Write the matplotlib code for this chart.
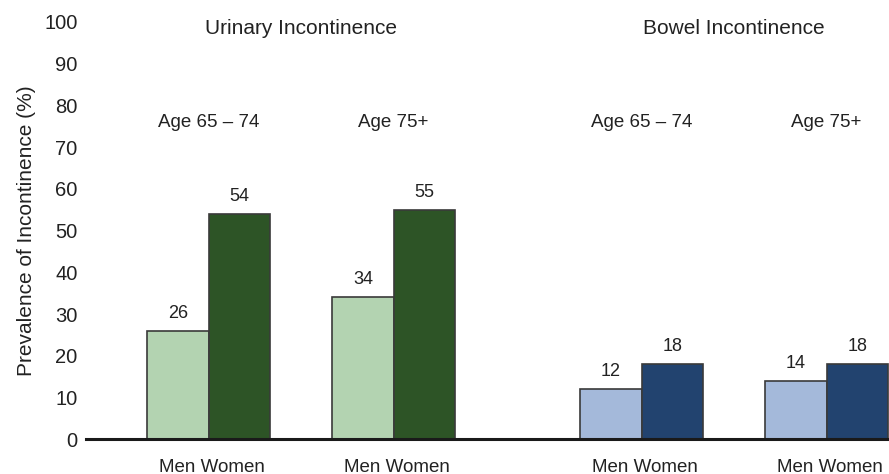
import matplotlib
matplotlib.use('Agg')
import matplotlib.pyplot as plt

plt.rcParams['font.family'] = ['Liberation Sans', 'DejaVu Sans']

# Daten
groups = ['Age 65 – 74', 'Age 75+', 'Age 65 – 74', 'Age 75+']
sections = ['Urinary Incontinence', 'Bowel Incontinence']
men = [26, 34, 12, 14]
women = [54, 55, 18, 18]
yticks = [0, 10, 20, 30, 40, 50, 60, 70, 80, 90, 100]

# Position der Gruppen (Abstand zwischen Urin- und Darm-Teil größer)
pos = [0, 1, 2.34, 3.34]
w = 0.333

men_colors = ['#b3d3b1', '#b3d3b1', '#a4b9da', '#a4b9da']
women_colors = ['#2d5426', '#2d5426', '#22436f', '#22436f']

fig = plt.figure(figsize=(8.89, 4.74), dpi=100)
ax = fig.add_axes([0.0967, 0.0732, 0.9033, 0.8804])

ax.bar([p - w / 2 for p in pos], men, width=w, color=men_colors,
       edgecolor='#3a3a3a', linewidth=1.2, zorder=2)
ax.bar([p + w / 2 for p in pos], women, width=w, color=women_colors,
       edgecolor='#3a3a3a', linewidth=1.2, zorder=2)

for p, m, f in zip(pos, men, women):
    ax.text(p - w / 2, m + 2.2, str(m), ha='center', va='bottom', fontsize=13, color='#222222')
    ax.text(p + w / 2, f + 2.2, str(f), ha='center', va='bottom', fontsize=13, color='#222222')

# Beschriftungen
for p, g in zip(pos, groups):
    ax.text(p, 75.8, g, ha='center', va='center', fontsize=13.5, color='#222222')
ax.text((pos[0] + pos[1]) / 2, 98.5, sections[0], ha='center', va='center', fontsize=15, color='#222222')
ax.text((pos[2] + pos[3]) / 2, 98.5, sections[1], ha='center', va='center', fontsize=15, color='#222222')

ax.set_xlim(-0.663, 3.677)
ax.set_ylim(0, 100)
ax.set_yticks(yticks)
ax.set_xticks([p + 0.02 for p in pos])
ax.set_xticklabels(['Men Women'] * 4, fontsize=13.5, color='#222222')
ax.tick_params(axis='x', length=0, pad=14)
ax.tick_params(axis='y', length=0, pad=6, labelsize=14.5, labelcolor='#222222')
ax.set_ylabel('Prevalence of Incontinence (%)', fontsize=15, color='#222222', labelpad=6)

for s in ['top', 'right', 'left']:
    ax.spines[s].set_visible(False)
ax.spines['bottom'].set_linewidth(2.2)
ax.spines['bottom'].set_color('#1a1a1a')
ax.spines['bottom'].set_zorder(3)

fig.savefig('out.png', dpi=100)
